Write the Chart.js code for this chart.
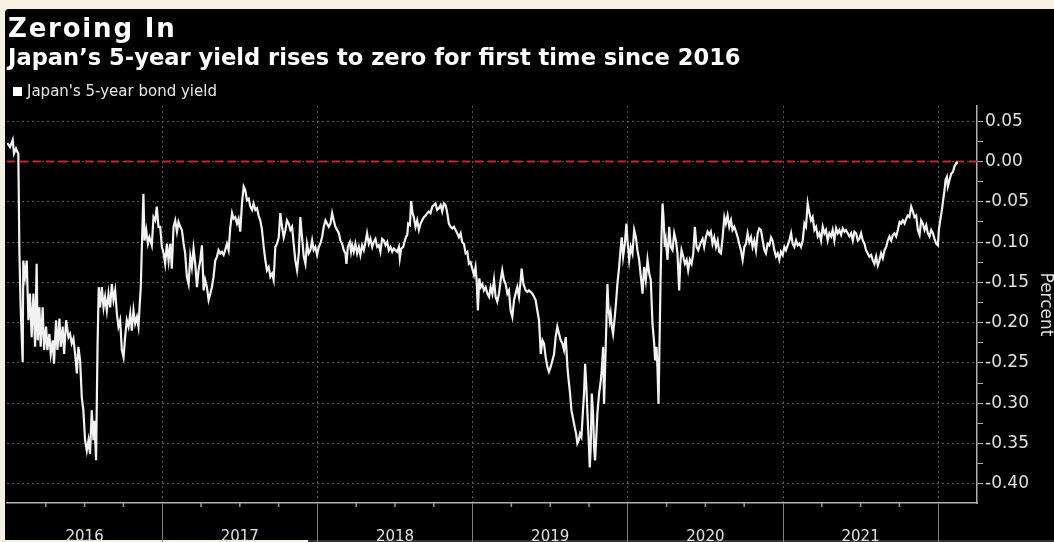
<!DOCTYPE html>
<html>
<head>
<meta charset="utf-8">
<script src="https://cdn.jsdelivr.net/npm/chart.js@4.4.1/dist/chart.umd.min.js"></script>
<style>
  html, body { margin: 0; padding: 0; overflow: hidden; background: #f6f1e0; }
  body { width: 1054px; height: 542px; position: relative; font-family: "DejaVu Sans", sans-serif; }
  #frame { position: absolute; left: 5px; top: 9px; width: 1049px; height: 531px; background: #000; border-radius: 4px 0 0 0; }
  #strip { position: absolute; left: 308px; top: 540px; width: 746px; height: 2px; background: #333; }
  #chart { position: absolute; left: 0; top: 0; }
  .txt { position: absolute; color: #fff; white-space: nowrap; line-height: 1; }
  #title { left: 8px; top: 15px; font-size: 26px; font-weight: bold; letter-spacing: 1.8px; }
  #subtitle { left: 8px; top: 46px; font-size: 22.6px; font-weight: bold; }
  #legend { left: 13px; top: 84px; font-size: 15px; color: #e6e6e6; }
  #legend i { display: inline-block; width: 9px; height: 9px; background: #fff; margin-right: 5px; vertical-align: 0px; }
</style>
</head>
<body>
<div id="frame"></div>
<div id="strip"></div>
<canvas id="chart" width="1054" height="560"></canvas>
<div class="txt" id="title">Zeroing In</div>
<div class="txt" id="subtitle">Japan’s 5-year yield rises to zero for first time since 2016</div>
<div class="txt" id="legend"><i></i>Japan's 5-year bond yield</div>
<script>
const years = [2016, 2017, 2018, 2019, 2020, 2021];
const yTicks = [0.05, 0.00, -0.05, -0.10, -0.15, -0.20, -0.25, -0.30, -0.35, -0.40];

// [decimal year, percent]
const yield2016 = [
  [2016.002,0.023],[2016.019,0.018],[2016.037,0.027],[2016.045,0.010],[2016.058,0.016],[2016.067,0.012],
  [2016.073,0.010],[2016.080,-0.114],[2016.088,-0.181],[2016.101,-0.249],[2016.105,-0.123],[2016.116,-0.143],
  [2016.127,-0.123],[2016.138,-0.197],[2016.148,-0.164],[2016.159,-0.218],[2016.170,-0.164],[2016.181,-0.230],
  [2016.191,-0.127],[2016.198,-0.222],[2016.209,-0.181],[2016.217,-0.230],[2016.230,-0.181],[2016.239,-0.234],
  [2016.252,-0.205],[2016.260,-0.234],[2016.273,-0.214],[2016.282,-0.239],[2016.295,-0.222],[2016.303,-0.251],
  [2016.316,-0.197],[2016.325,-0.234],[2016.338,-0.195],[2016.346,-0.230],[2016.359,-0.205],[2016.368,-0.239],
  [2016.381,-0.197],[2016.396,-0.218],[2016.406,-0.214],[2016.417,-0.226],[2016.428,-0.220],[2016.439,-0.239],
  [2016.450,-0.263],[2016.460,-0.230],[2016.471,-0.247],[2016.482,-0.293],[2016.492,-0.309],[2016.503,-0.346],
  [2016.514,-0.359],[2016.525,-0.346],[2016.535,-0.363],[2016.546,-0.309],[2016.557,-0.346],[2016.563,-0.322],
  [2016.574,-0.371],[2016.583,-0.234],[2016.591,-0.156],[2016.600,-0.181],[2016.611,-0.156],[2016.622,-0.181],
  [2016.632,-0.168],[2016.643,-0.185],[2016.654,-0.164],[2016.665,-0.181],[2016.675,-0.152],[2016.686,-0.172],
  [2016.697,-0.160],[2016.708,-0.189],[2016.718,-0.205],[2016.729,-0.197],[2016.740,-0.234],[2016.751,-0.243],
  [2016.761,-0.218],[2016.772,-0.197],[2016.783,-0.205],[2016.794,-0.189],[2016.804,-0.210],[2016.815,-0.185],
  [2016.826,-0.201],[2016.837,-0.193],[2016.847,-0.205],[2016.854,-0.181],[2016.862,-0.156],[2016.869,-0.106],
  [2016.879,-0.040],[2016.886,-0.098],[2016.897,-0.085],[2016.908,-0.102],[2016.918,-0.094],[2016.933,-0.104],
  [2016.944,-0.069],[2016.955,-0.073],[2016.965,-0.056],[2016.976,-0.081],[2016.987,-0.081],[2016.998,-0.106]
];
const yield2017 = [
  [2017.009,-0.114],[2017.019,-0.127],[2017.030,-0.102],[2017.041,-0.123],[2017.052,-0.102],[2017.062,-0.133],
  [2017.073,-0.081],[2017.084,-0.073],[2017.095,-0.087],[2017.105,-0.075],[2017.116,-0.081],[2017.127,-0.085],
  [2017.138,-0.102],[2017.148,-0.114],[2017.159,-0.143],[2017.170,-0.152],[2017.181,-0.118],[2017.191,-0.131],
  [2017.202,-0.108],[2017.213,-0.127],[2017.224,-0.156],[2017.234,-0.135],[2017.245,-0.123],[2017.256,-0.104],
  [2017.267,-0.160],[2017.277,-0.147],[2017.288,-0.156],[2017.299,-0.172],[2017.310,-0.164],[2017.320,-0.156],
  [2017.331,-0.143],[2017.342,-0.123],[2017.353,-0.118],[2017.363,-0.110],[2017.374,-0.114],[2017.385,-0.112],
  [2017.396,-0.116],[2017.406,-0.110],[2017.417,-0.102],[2017.428,-0.110],[2017.439,-0.081],[2017.450,-0.064],
  [2017.460,-0.071],[2017.471,-0.069],[2017.482,-0.077],[2017.492,-0.071],[2017.503,-0.087],[2017.514,-0.052],
  [2017.525,-0.031],[2017.535,-0.035],[2017.546,-0.048],[2017.557,-0.046],[2017.568,-0.056],[2017.579,-0.060],
  [2017.589,-0.052],[2017.600,-0.060],[2017.611,-0.058],[2017.621,-0.067],[2017.632,-0.073],[2017.643,-0.085],
  [2017.654,-0.106],[2017.665,-0.123],[2017.675,-0.135],[2017.686,-0.131],[2017.697,-0.143],[2017.708,-0.139],
  [2017.718,-0.147],[2017.729,-0.106],[2017.740,-0.102],[2017.751,-0.094],[2017.761,-0.064],[2017.772,-0.081],
  [2017.783,-0.094],[2017.794,-0.085],[2017.804,-0.073],[2017.815,-0.077],[2017.826,-0.085],[2017.837,-0.081],
  [2017.847,-0.102],[2017.858,-0.123],[2017.869,-0.135],[2017.880,-0.114],[2017.890,-0.069],[2017.901,-0.094],
  [2017.912,-0.118],[2017.923,-0.127],[2017.933,-0.102],[2017.944,-0.114],[2017.955,-0.110],[2017.966,-0.098],
  [2017.976,-0.110],[2017.987,-0.106],[2017.998,-0.116]
];
const yield2018 = [
  [2018.009,-0.106],[2018.019,-0.102],[2018.030,-0.094],[2018.041,-0.081],[2018.052,-0.073],[2018.062,-0.077],
  [2018.073,-0.081],[2018.084,-0.077],[2018.095,-0.064],[2018.105,-0.073],[2018.116,-0.081],[2018.127,-0.085],
  [2018.138,-0.089],[2018.148,-0.098],[2018.159,-0.102],[2018.170,-0.110],[2018.181,-0.114],[2018.187,-0.127],
  [2018.196,-0.106],[2018.209,-0.100],[2018.217,-0.112],[2018.224,-0.104],[2018.234,-0.112],[2018.245,-0.102],
  [2018.256,-0.114],[2018.267,-0.106],[2018.277,-0.116],[2018.288,-0.104],[2018.299,-0.110],[2018.310,-0.100],
  [2018.320,-0.089],[2018.331,-0.102],[2018.342,-0.096],[2018.353,-0.106],[2018.363,-0.100],[2018.374,-0.096],
  [2018.385,-0.106],[2018.396,-0.104],[2018.406,-0.112],[2018.417,-0.096],[2018.428,-0.098],[2018.439,-0.104],
  [2018.450,-0.100],[2018.460,-0.110],[2018.471,-0.106],[2018.482,-0.112],[2018.492,-0.108],[2018.503,-0.110],
  [2018.514,-0.112],[2018.525,-0.106],[2018.531,-0.120],[2018.540,-0.108],[2018.553,-0.106],[2018.561,-0.100],
  [2018.570,-0.094],[2018.579,-0.091],[2018.585,-0.077],[2018.596,-0.079],[2018.604,-0.049],[2018.613,-0.064],
  [2018.621,-0.069],[2018.632,-0.081],[2018.643,-0.073],[2018.654,-0.085],[2018.665,-0.077],[2018.675,-0.073],
  [2018.686,-0.069],[2018.697,-0.067],[2018.708,-0.064],[2018.718,-0.062],[2018.729,-0.064],[2018.740,-0.056],
  [2018.751,-0.054],[2018.761,-0.052],[2018.772,-0.060],[2018.783,-0.058],[2018.794,-0.054],[2018.804,-0.062],
  [2018.815,-0.052],[2018.826,-0.054],[2018.837,-0.064],[2018.847,-0.077],[2018.858,-0.081],[2018.869,-0.083],
  [2018.880,-0.081],[2018.890,-0.085],[2018.901,-0.089],[2018.912,-0.094],[2018.923,-0.089],[2018.933,-0.100],
  [2018.944,-0.102],[2018.955,-0.114],[2018.966,-0.112],[2018.976,-0.127],[2018.987,-0.125],[2018.998,-0.133]
];
const yield2019 = [
  [2019.009,-0.141],[2019.019,-0.131],[2019.026,-0.147],[2019.034,-0.185],[2019.043,-0.145],[2019.052,-0.156],
  [2019.063,-0.152],[2019.073,-0.160],[2019.084,-0.156],[2019.095,-0.164],[2019.106,-0.168],[2019.116,-0.156],
  [2019.127,-0.164],[2019.138,-0.147],[2019.148,-0.168],[2019.159,-0.174],[2019.170,-0.164],[2019.181,-0.147],
  [2019.191,-0.135],[2019.202,-0.147],[2019.213,-0.152],[2019.224,-0.164],[2019.234,-0.160],[2019.245,-0.185],
  [2019.256,-0.193],[2019.267,-0.172],[2019.277,-0.164],[2019.288,-0.156],[2019.299,-0.168],[2019.310,-0.147],
  [2019.316,-0.133],[2019.327,-0.152],[2019.342,-0.160],[2019.353,-0.162],[2019.363,-0.160],[2019.374,-0.162],
  [2019.385,-0.164],[2019.396,-0.168],[2019.406,-0.172],[2019.417,-0.185],[2019.428,-0.197],[2019.439,-0.239],
  [2019.450,-0.222],[2019.460,-0.226],[2019.471,-0.243],[2019.482,-0.255],[2019.492,-0.261],[2019.503,-0.255],
  [2019.514,-0.247],[2019.525,-0.239],[2019.535,-0.218],[2019.546,-0.205],[2019.557,-0.214],[2019.568,-0.222],
  [2019.579,-0.226],[2019.589,-0.234],[2019.600,-0.218],[2019.611,-0.255],[2019.617,-0.268],[2019.628,-0.288],
  [2019.637,-0.309],[2019.649,-0.321],[2019.658,-0.330],[2019.667,-0.338],[2019.675,-0.350],[2019.684,-0.346],
  [2019.692,-0.338],[2019.701,-0.342],[2019.710,-0.313],[2019.718,-0.288],[2019.725,-0.251],[2019.733,-0.280],
  [2019.740,-0.313],[2019.748,-0.346],[2019.755,-0.380],[2019.761,-0.355],[2019.768,-0.288],[2019.776,-0.313],
  [2019.783,-0.355],[2019.789,-0.371],[2019.796,-0.346],[2019.804,-0.313],[2019.815,-0.288],[2019.826,-0.272],
  [2019.832,-0.259],[2019.841,-0.230],[2019.847,-0.301],[2019.854,-0.255],[2019.862,-0.201],[2019.869,-0.152],
  [2019.875,-0.181],[2019.884,-0.197],[2019.890,-0.189],[2019.897,-0.205],[2019.905,-0.214],[2019.912,-0.201],
  [2019.918,-0.189],[2019.927,-0.168],[2019.933,-0.152],[2019.944,-0.131],[2019.955,-0.106],[2019.961,-0.094],
  [2019.970,-0.118],[2019.981,-0.102],[2019.991,-0.077],[2019.998,-0.098]
];
const yield2020 = [
  [2020.009,-0.122],[2020.019,-0.106],[2020.030,-0.114],[2020.041,-0.085],[2020.052,-0.094],[2020.062,-0.110],
  [2020.073,-0.122],[2020.084,-0.143],[2020.095,-0.164],[2020.105,-0.131],[2020.116,-0.147],[2020.127,-0.122],
  [2020.138,-0.139],[2020.148,-0.147],[2020.159,-0.201],[2020.170,-0.226],[2020.176,-0.247],[2020.185,-0.230],
  [2020.191,-0.255],[2020.198,-0.301],[2020.204,-0.230],[2020.211,-0.147],[2020.217,-0.094],[2020.224,-0.052],
  [2020.230,-0.069],[2020.239,-0.106],[2020.245,-0.098],[2020.256,-0.122],[2020.267,-0.081],[2020.277,-0.106],
  [2020.288,-0.110],[2020.299,-0.089],[2020.310,-0.098],[2020.320,-0.114],[2020.331,-0.160],[2020.338,-0.127],
  [2020.346,-0.110],[2020.357,-0.118],[2020.368,-0.127],[2020.379,-0.122],[2020.389,-0.135],[2020.400,-0.122],
  [2020.411,-0.127],[2020.422,-0.114],[2020.432,-0.081],[2020.443,-0.106],[2020.454,-0.110],[2020.467,-0.102],
  [2020.482,-0.096],[2020.492,-0.106],[2020.503,-0.094],[2020.514,-0.087],[2020.525,-0.091],[2020.535,-0.087],
  [2020.546,-0.102],[2020.557,-0.094],[2020.568,-0.106],[2020.579,-0.098],[2020.589,-0.112],[2020.600,-0.114],
  [2020.611,-0.094],[2020.622,-0.069],[2020.632,-0.077],[2020.643,-0.067],[2020.654,-0.081],[2020.665,-0.073],
  [2020.675,-0.085],[2020.686,-0.081],[2020.697,-0.087],[2020.708,-0.094],[2020.718,-0.102],[2020.729,-0.110],
  [2020.740,-0.122],[2020.751,-0.106],[2020.761,-0.102],[2020.772,-0.089],[2020.783,-0.100],[2020.794,-0.094],
  [2020.804,-0.106],[2020.815,-0.098],[2020.826,-0.110],[2020.837,-0.089],[2020.847,-0.083],[2020.858,-0.085],
  [2020.869,-0.098],[2020.880,-0.110],[2020.890,-0.114],[2020.901,-0.102],[2020.912,-0.104],[2020.923,-0.094],
  [2020.933,-0.098],[2020.944,-0.110],[2020.955,-0.118],[2020.966,-0.114],[2020.976,-0.122],[2020.987,-0.112],
  [2020.998,-0.116]
];
const yield2021 = [
  [2021.009,-0.106],[2021.019,-0.110],[2021.030,-0.104],[2021.041,-0.098],[2021.052,-0.089],[2021.062,-0.102],
  [2021.073,-0.106],[2021.084,-0.098],[2021.095,-0.104],[2021.106,-0.102],[2021.116,-0.106],[2021.127,-0.098],
  [2021.138,-0.077],[2021.148,-0.081],[2021.159,-0.052],[2021.170,-0.064],[2021.181,-0.073],[2021.191,-0.069],
  [2021.202,-0.085],[2021.213,-0.081],[2021.224,-0.093],[2021.234,-0.089],[2021.245,-0.098],[2021.256,-0.081],
  [2021.267,-0.089],[2021.277,-0.085],[2021.288,-0.098],[2021.299,-0.089],[2021.310,-0.093],[2021.320,-0.085],
  [2021.331,-0.098],[2021.342,-0.083],[2021.353,-0.089],[2021.363,-0.085],[2021.374,-0.091],[2021.385,-0.083],
  [2021.396,-0.087],[2021.406,-0.085],[2021.417,-0.089],[2021.428,-0.093],[2021.439,-0.089],[2021.450,-0.098],
  [2021.460,-0.087],[2021.471,-0.089],[2021.482,-0.098],[2021.492,-0.096],[2021.503,-0.089],[2021.514,-0.098],
  [2021.525,-0.102],[2021.535,-0.110],[2021.546,-0.114],[2021.557,-0.118],[2021.568,-0.116],[2021.579,-0.123],
  [2021.589,-0.127],[2021.600,-0.118],[2021.611,-0.129],[2021.621,-0.123],[2021.632,-0.114],[2021.643,-0.120],
  [2021.654,-0.110],[2021.665,-0.106],[2021.675,-0.098],[2021.686,-0.093],[2021.697,-0.098],[2021.708,-0.091],
  [2021.718,-0.089],[2021.729,-0.093],[2021.740,-0.085],[2021.751,-0.075],[2021.761,-0.077],[2021.772,-0.073],
  [2021.783,-0.077],[2021.794,-0.071],[2021.804,-0.067],[2021.815,-0.069],[2021.826,-0.056],[2021.837,-0.062],
  [2021.847,-0.069],[2021.858,-0.067],[2021.869,-0.085],[2021.880,-0.091],[2021.890,-0.073],[2021.901,-0.077],
  [2021.912,-0.085],[2021.923,-0.079],[2021.933,-0.089],[2021.944,-0.093],[2021.955,-0.085],[2021.966,-0.089],
  [2021.976,-0.096],[2021.987,-0.102],[2021.998,-0.104]
];
const yield2022 = [
  [2022.004,-0.085],[2022.013,-0.073],[2022.024,-0.060],[2022.032,-0.048],[2022.041,-0.035],[2022.047,-0.023],
  [2022.056,-0.019],[2022.062,-0.031],[2022.073,-0.023],[2022.084,-0.015],[2022.095,-0.013],[2022.105,-0.006],
  [2022.116,-0.002],[2022.120,0.000]
];

const series = [...yield2016, ...yield2017, ...yield2018, ...yield2019, ...yield2020, ...yield2021, ...yield2022];
const xMin = years[0];
const xMax = 2022.25;

const isMajorY = v => yTicks.some(t => Math.abs(t - v) < 1e-9);

// small quarter ticks under the x axis
const quarterTicks = {
  id: 'quarterTicks',
  afterDraw(chart) {
    const sx = chart.scales.x;
    const ctx = chart.ctx;
    ctx.save();
    ctx.strokeStyle = '#9a9a9a';
    ctx.lineWidth = 1.5;
    years.forEach(y => {
      [0.25, 0.5, 0.75].forEach(q => {
        const px = sx.getPixelForValue(y + q);
        ctx.beginPath();
        ctx.moveTo(px, sx.top);
        ctx.lineTo(px, sx.top + 4);
        ctx.stroke();
      });
    });
    ctx.restore();
  }
};

Chart.defaults.font.family = '"DejaVu Sans", sans-serif';

new Chart(document.getElementById('chart'), {
  type: 'line',
  data: {
    datasets: [
      {
        label: "Japan's 5-year bond yield",
        data: series.map(p => ({ x: p[0], y: p[1] })),
        borderColor: '#f2f2f2',
        borderWidth: 2.2,
        pointRadius: 0,
        tension: 0,
        order: 1
      },
      {
        label: 'zero',
        data: [{ x: xMin, y: 0 }, { x: xMax, y: 0 }],
        borderColor: '#c4242b',
        borderWidth: 2,
        borderDash: [8, 5],
        pointRadius: 0,
        order: 2
      }
    ]
  },
  options: {
    responsive: false,
    devicePixelRatio: 1,
    animation: false,
    layout: { padding: { left: 7, top: 106, right: 0, bottom: 0 } },
    plugins: { legend: { display: false }, tooltip: { enabled: false } },
    scales: {
      x: {
        type: 'linear',
        min: xMin,
        max: xMax,
        afterBuildTicks: s => {
          const t = [];
          years.forEach(y => { t.push({ value: y }); t.push({ value: y + 0.5 }); });
          t.push({ value: years[years.length - 1] + 1 });
          s.ticks = t;
        },
        afterFit: s => { s.height = 57; },
        ticks: {
          autoSkip: false,
          maxRotation: 0,
          padding: -15,
          color: '#e0e0e0',
          font: { size: 15 },
          callback: v => (v % 1 !== 0 ? String(Math.floor(v)) : '')
        },
        grid: {
          color: c => (c.tick && c.tick.value % 1 === 0 && c.tick.value !== xMin ? '#555' : 'transparent'),
          tickColor: c => (c.tick && c.tick.value % 1 === 0 && c.tick.value !== xMin ? '#808080' : 'transparent'),
          tickLength: 40,
          lineWidth: 1
        },
        border: { color: '#b0b0b0', width: 1.5, dash: [2, 3] }
      },
      y: {
        position: 'right',
        min: -0.424,
        max: 0.069,
        afterBuildTicks: s => {
          const t = yTicks.slice();
          for (let i = 0; i < yTicks.length - 1; i++) t.push((yTicks[i] + yTicks[i + 1]) / 2);
          s.ticks = t.sort((a, b) => a - b).map(v => ({ value: v }));
        },
        afterFit: s => { s.width = 77; },
        ticks: {
          autoSkip: false,
          padding: 2,
          color: '#e0e0e0',
          font: { size: 17 },
          callback: v => (isMajorY(v) ? v.toFixed(2) : '')
        },
        grid: {
          color: c => (c.tick && isMajorY(c.tick.value) ? '#555' : 'transparent'),
          tickColor: '#b0b0b0',
          tickLength: 6,
          lineWidth: 1
        },
        border: { color: '#b0b0b0', width: 1.5, dash: [2, 3] },
        title: {
          display: true,
          text: 'Percent',
          color: '#e0e0e0',
          font: { size: 17, lineHeight: 1 },
          padding: 0
        }
      }
    }
  },
  plugins: [quarterTicks]
});
</script>
</body>
</html>
